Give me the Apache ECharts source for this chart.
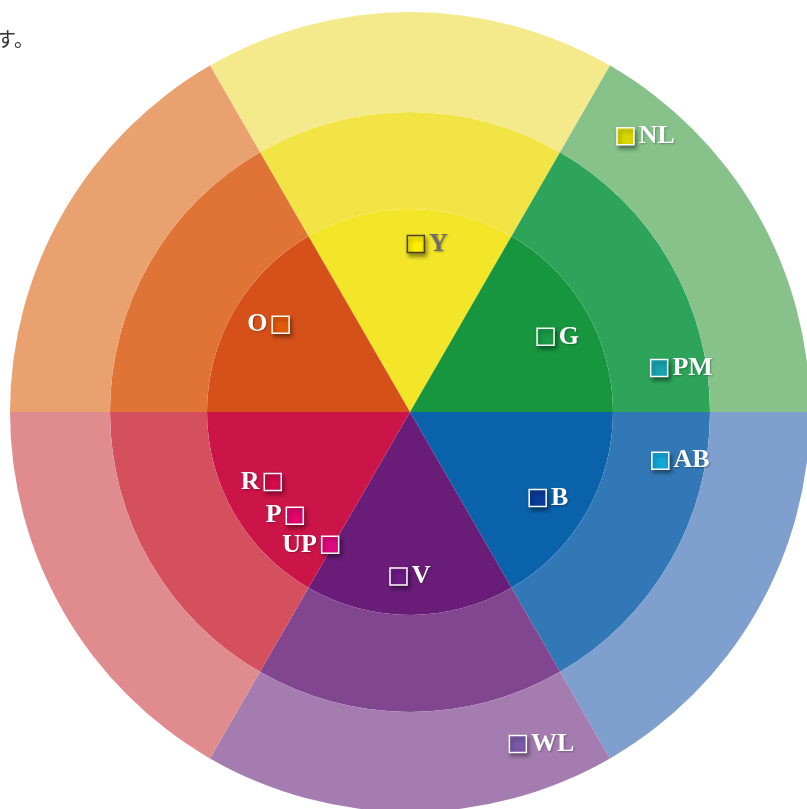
<!DOCTYPE html>
<html>
<head>
<meta charset="utf-8">
<script src="https://cdn.jsdelivr.net/npm/echarts@6/dist/echarts.min.js"></script>
<style>
  html, body { margin: 0; padding: 0; background: #fff; }
  #wheel { width: 807px; height: 809px; }
</style>
</head>
<body>
<div id="wheel"></div>
<script>
// sectors, clockwise from the top one
var sectorNames = ['Y', 'G', 'B', 'V', 'R', 'O'];
var sectorValues = [1, 1, 1, 1, 1, 1];

// label marks (polar: radius in px, angle in degrees, counter-clockwise from east)
var markNames = ['Y', 'O', 'G', 'NL', 'PM', 'AB', 'B', 'V', 'WL', 'R', 'P', 'UP'];
var markRadius = [168, 156, 155, 350, 253, 255, 154, 165, 349, 154, 155, 155];
var markAngle = [88, 146, 29, 52, 10, 349, 326, 266, 288, 207, 222, 239];

// colours
var innerColors = ['#F3E528', '#17963F', '#0A62AA', '#6A1C79', '#CB1549', '#D6511A'];
var middleColors = ['#F3E446', '#2DA45A', '#3378B6', '#82458F', '#D5505F', '#E07436'];
var outerColors = ['#F4EA8C', '#87C28A', '#7F9FCE', '#A47CB0', '#E08B8D', '#E9A170'];
var markColors = {
    Y: '#FFEF00', O: '#E35A0A', G: '#1A9A45', NL: '#D9D800', PM: '#18A3B0', AB: '#12A6D8',
    B: '#0A3A99', V: '#6C1A84', WL: '#7A5AA8', R: '#D40A4A', P: '#E4066C', UP: '#E00A80'
};
var leftLabels = ['O', 'R', 'P', 'UP'];

var CENTER = [410, 412];

var ring = function (radius, colors) {
    return {
        type: 'pie',
        center: CENTER,
        radius: radius,
        startAngle: 120,
        clockwise: true,
        silent: true,
        animation: false,
        label: { show: false },
        labelLine: { show: false },
        data: sectorNames.map(function (n, i) {
            return { name: n, value: sectorValues[i], itemStyle: { color: colors[i] } };
        })
    };
};

var marks = markNames.map(function (n, i) {
    var isY = n === 'Y';
    return {
        name: n,
        value: [markRadius[i], markAngle[i]],
        itemStyle: {
            color: markColors[n],
            opacity: 1,
            borderColor: isY ? '#4A4020' : '#FFFFFF',
            borderWidth: 1.5,
            shadowColor: 'rgba(0,0,0,0.4)',
            shadowBlur: 4,
            shadowOffsetX: 2,
            shadowOffsetY: 3
        },
        label: {
            position: leftLabels.indexOf(n) >= 0 ? 'left' : 'right',
            color: isY ? '#6E6E6E' : '#FFFFFF'
        }
    };
});

var myChart = echarts.init(document.getElementById('wheel'));
var option = {
    animation: false,
    polar: { center: CENTER, radius: 400 },
    angleAxis: { type: 'value', min: 0, max: 360, startAngle: 0, clockwise: false, show: false },
    radiusAxis: { type: 'value', min: 0, max: 400, show: false },
    graphic: [{
        type: 'text',
        left: -4,
        top: 29,
        style: { text: 'す。', fontSize: 20, fill: '#333', fontFamily: 'Noto Sans CJK JP' }
    }],
    series: [
        ring([0, 203], innerColors),
        ring([203, 300], middleColors),
        ring([300, 400], outerColors),
        {
            type: 'scatter',
            coordinateSystem: 'polar',
            symbol: 'rect',
            symbolSize: 17,
            silent: true,
            z: 5,
            itemStyle: { opacity: 1 },
            label: {
                show: true,
                formatter: '{b}',
                distance: 4,
                fontFamily: 'Liberation Serif',
                fontWeight: 'bold',
                fontSize: 26,
                textBorderWidth: 0,
                textShadowColor: 'rgba(0,0,0,0.3)',
                textShadowBlur: 2,
                textShadowOffsetX: 1,
                textShadowOffsetY: 1
            },
            data: marks
        }
    ]
};
myChart.setOption(option);
</script>
</body>
</html>
